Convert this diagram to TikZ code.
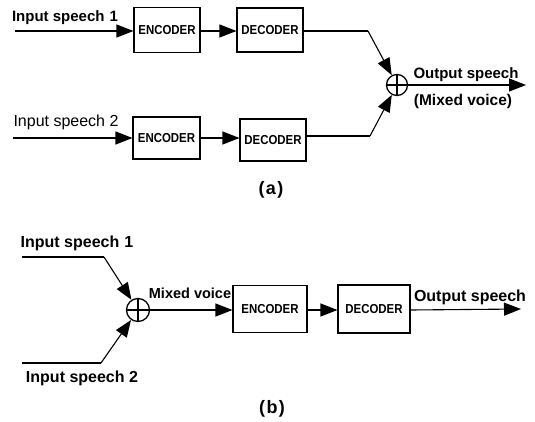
\documentclass[tikz,border=0pt]{standalone}
\usepackage{fontspec}
\setmainfont{Liberation Sans}
\usetikzlibrary{arrows.meta}
\newcommand{\boxtxt}[1]{\scalebox{0.88}[1]{#1}}
\begin{document}
\begin{tikzpicture}[x=1pt,y=-1pt,
  blk/.style={draw,line width=1.1pt,minimum width=#1,inner sep=0pt,font=\fontsize{13}{13}\selectfont\bfseries},
  sumc/.style={draw,circle,line width=1.3pt,minimum size=#1,inner sep=0pt,
     path picture={\draw[line width=1.1pt] (path picture bounding box.north) -- (path picture bounding box.south)
       (path picture bounding box.west) -- (path picture bounding box.east);}},
  wire/.style={line width=1.1pt},
  arr/.style={line width=1.1pt,-{Triangle[length=17pt,width=13pt]}},
  lbl/.style={font=\fontsize{15}{15}\selectfont\bfseries,inner sep=0pt},
  lblb/.style={font=\fontsize{16}{16}\selectfont\bfseries,inner sep=0pt},
  lblr/.style={font=\fontsize{16}{16}\selectfont,inner sep=0pt},
  capt/.style={font=\fontsize{18}{18}\selectfont\bfseries,inner sep=0pt}]
\useasboundingbox (0,0) rectangle (535,422);
% ---- (a)
\node[blk=66pt,minimum height=45pt] (ae1) at (167,30) {\boxtxt{ENCODER}};
\node[blk=66pt,minimum height=44pt] (ad1) at (270,30) {\boxtxt{DECODER}};
\node[blk=67pt,minimum height=42pt] (ae2) at (166.5,138) {\boxtxt{ENCODER}};
\node[blk=66pt,minimum height=42pt] (ad2) at (273,140) {\boxtxt{DECODER}};
\node[sumc=21pt] (as) at (397,85) {};
\coordinate (ai1) at (15,31);
\coordinate (ai2) at (13,138);
\coordinate (ak1) at (368,31);
\coordinate (ak2) at (370,136);
\coordinate (ao) at (526,85);
\draw[arr] (ai1) -- (ae1.west |- ai1);
\draw[arr] (ae1.east |- ai1) -- (ad1.west |- ai1);
\draw[wire] (ad1.east |- ak1) -- (ak1);
\draw[arr] (ak1) -- (as);
\draw[arr] (ai2) -- (ae2.west);
\draw[arr] (ae2.east) -- (ad2.west |- ae2.east);
\draw[wire] (ad2.east |- ak2) -- (ak2);
\draw[arr] (ak2) -- (as);
\draw[arr] (as) -- (ao);
\node[lbl] (at1) at (65,18) {Input speech\hspace{5pt}1};
\node[lblr] (at2) at (66,122) {Input speech 2};
\node[lbl] (ato) at (466,75) {Output speech};
\node[font=\fontsize{15.5}{15.5}\selectfont\bfseries,inner sep=0pt] (atm) at (463,101) {(Mixed voice)};
\node[capt] (acap) at (271,190) {(\kern1.5pt a\kern1.5pt)};
% ---- (b)
\node[sumc=23pt] (bs) at (138,310) {};
\node[blk=74pt,minimum height=47pt] (be) at (270,309) {\boxtxt{ENCODER}};
\node[blk=72pt,minimum height=48pt] (bd) at (374,309) {\boxtxt{DECODER}};
\coordinate (bi1) at (22,257);
\coordinate (bk1) at (104,257);
\coordinate (bi2) at (22,363);
\coordinate (bk2) at (101,363);
\coordinate (bo) at (521,309);
\draw[wire] (bi1) -- (bk1);
\draw[arr] (bk1) -- (bs);
\draw[wire] (bi2) -- (bk2);
\draw[arr] (bk2) -- (bs);
\draw[arr] (bs) -- (be.west |- bs);
\draw[arr] (be.east |- bs) -- (bd.west |- bs);
\draw[arr] (bd.east |- bs) -- (bo);
\node[lblb] (bt1) at (77,243) {Input speech\hspace{5pt}1};
\node[lblb] (bt2) at (82,378) {Input speech 2};
\node[font=\fontsize{14.5}{14.5}\selectfont\bfseries,inner sep=0pt] (bm) at (190,293) {Mixed voice};
\node[lblb] (bto) at (470,297) {Output speech};
\node[capt] (bcap) at (272,409) {(\kern1.5pt b\kern1.5pt)};
\end{tikzpicture}
\end{document}
